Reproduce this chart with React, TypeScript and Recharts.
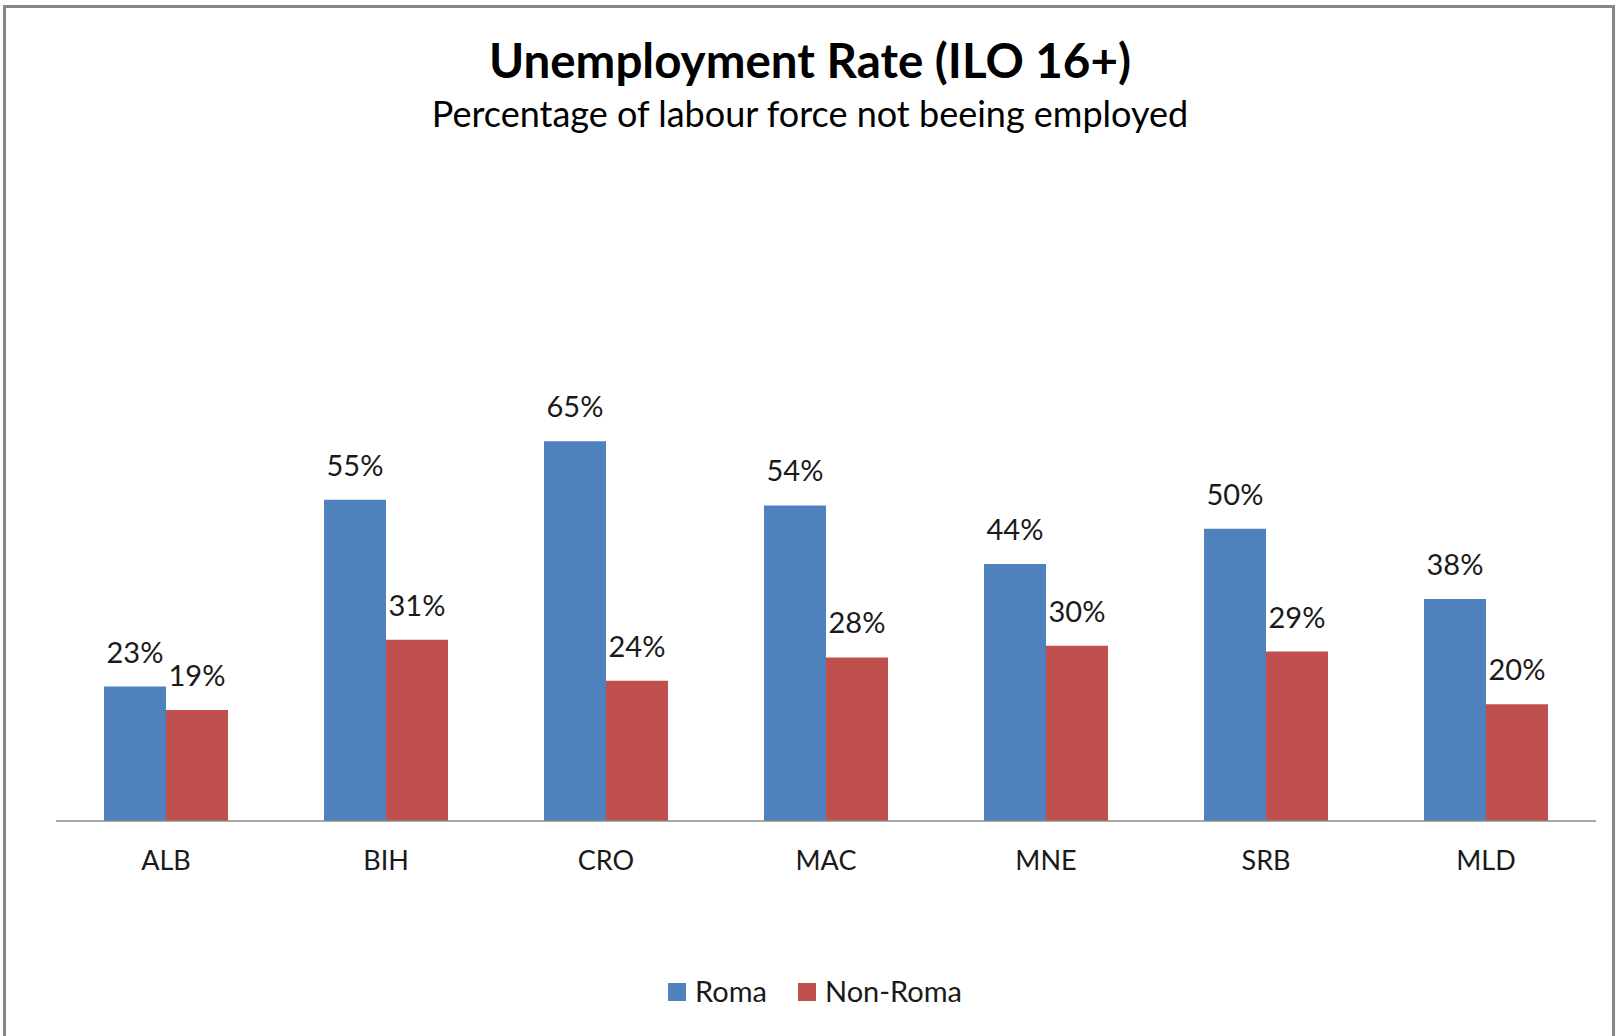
import { BarChart, Bar, XAxis, YAxis, Legend, LabelList } from "recharts";

const countries = ["ALB", "BIH", "CRO", "MAC", "MNE", "SRB", "MLD"];
const romaRates = [23, 55, 65, 54, 44, 50, 38];
const nonRomaRates = [19, 31, 24, 28, 30, 29, 20];

const seriesOrder = ["Roma", "Non-Roma"];
const chartTitle = "Unemployment Rate (ILO 16+)";
const chartSubtitle = "Percentage of labour force not beeing employed";

const data = countries.map((name, i) => ({
  name,
  roma: romaRates[i],
  nonRoma: nonRomaRates[i],
}));

const FONT = "Lato, 'Open Sans', sans-serif";
const TEXT = "#1a1a1a";
const BLUE = "#4F81BD";
const RED = "#C0504D";

function ChartLegend({ payload }: any) {
  const items = [...(payload || [])].sort(
    (a: any, b: any) => seriesOrder.indexOf(a.value) - seriesOrder.indexOf(b.value)
  );
  return (
    <div
      style={{
        display: "flex",
        justifyContent: "center",
        paddingLeft: 10,
        fontFamily: FONT,
        fontSize: 29,
        lineHeight: "29px",
        color: TEXT,
      }}
    >
      {items.map((entry: any, i: number) => (
        <div
          key={entry.value}
          style={{
            display: "flex",
            alignItems: "center",
            marginRight: i < items.length - 1 ? 31 : 0,
          }}
        >
          <span
            style={{
              display: "inline-block",
              width: 18,
              height: 18,
              background: entry.color,
              marginRight: 9,
              marginTop: 3,
            }}
          />
          <span>{entry.value}</span>
        </div>
      ))}
    </div>
  );
}

export default function App() {
  return (
    <div
      style={{
        position: "absolute",
        left: 0,
        top: 0,
        width: 1620,
        height: 1036,
        overflow: "hidden",
        background: "#fff",
      }}
    >
      <BarChart
        width={1620}
        height={1036}
        data={data}
        margin={{ top: 412, right: 24, left: 56, bottom: 155 }}
        barCategoryGap={48}
        barGap={0}
      >
        <XAxis
          dataKey="name"
          interval={0}
          tickLine={false}
          axisLine={{ stroke: "#8a8a8a", strokeWidth: 1.5 }}
          tick={{ fill: TEXT, fontSize: 27, fontFamily: FONT }}
          tickMargin={24}
          height={60}
        />
        <YAxis hide domain={[0, 70]} />
        <Legend
          verticalAlign="middle"
          align="center"
          layout="horizontal"
          content={<ChartLegend />}
          wrapperStyle={{ top: 976, left: 0, width: 1620 }}
        />
        <Bar dataKey="roma" name="Roma" fill={BLUE} isAnimationActive={false}>
          <LabelList
            dataKey="roma"
            position="top"
            offset={24}
            formatter={(v: any) => `${v}%`}
            fill={TEXT}
            fontSize={29}
            fontFamily={FONT}
          />
        </Bar>
        <Bar dataKey="nonRoma" name="Non-Roma" fill={RED} isAnimationActive={false}>
          <LabelList
            dataKey="nonRoma"
            position="top"
            offset={24}
            formatter={(v: any) => `${v}%`}
            fill={TEXT}
            fontSize={29}
            fontFamily={FONT}
          />
        </Bar>
      </BarChart>
      <svg
        width={1620}
        height={160}
        style={{ position: "absolute", left: 0, top: 0, pointerEvents: "none" }}
      >
        <text x={810} y={78} textAnchor="middle" fontFamily={FONT} fontWeight={700} fontSize={47.5} fill="#000">
          {chartTitle}
        </text>
        <text x={810} y={127} textAnchor="middle" fontFamily={FONT} fontSize={36} fill="#000">
          {chartSubtitle}
        </text>
      </svg>
      <div
        style={{
          position: "absolute",
          left: 3,
          top: 5,
          width: 1612,
          height: 1040,
          boxSizing: "border-box",
          border: "3px solid #868686",
          borderBottom: "none",
          pointerEvents: "none",
        }}
      />
    </div>
  );
}
